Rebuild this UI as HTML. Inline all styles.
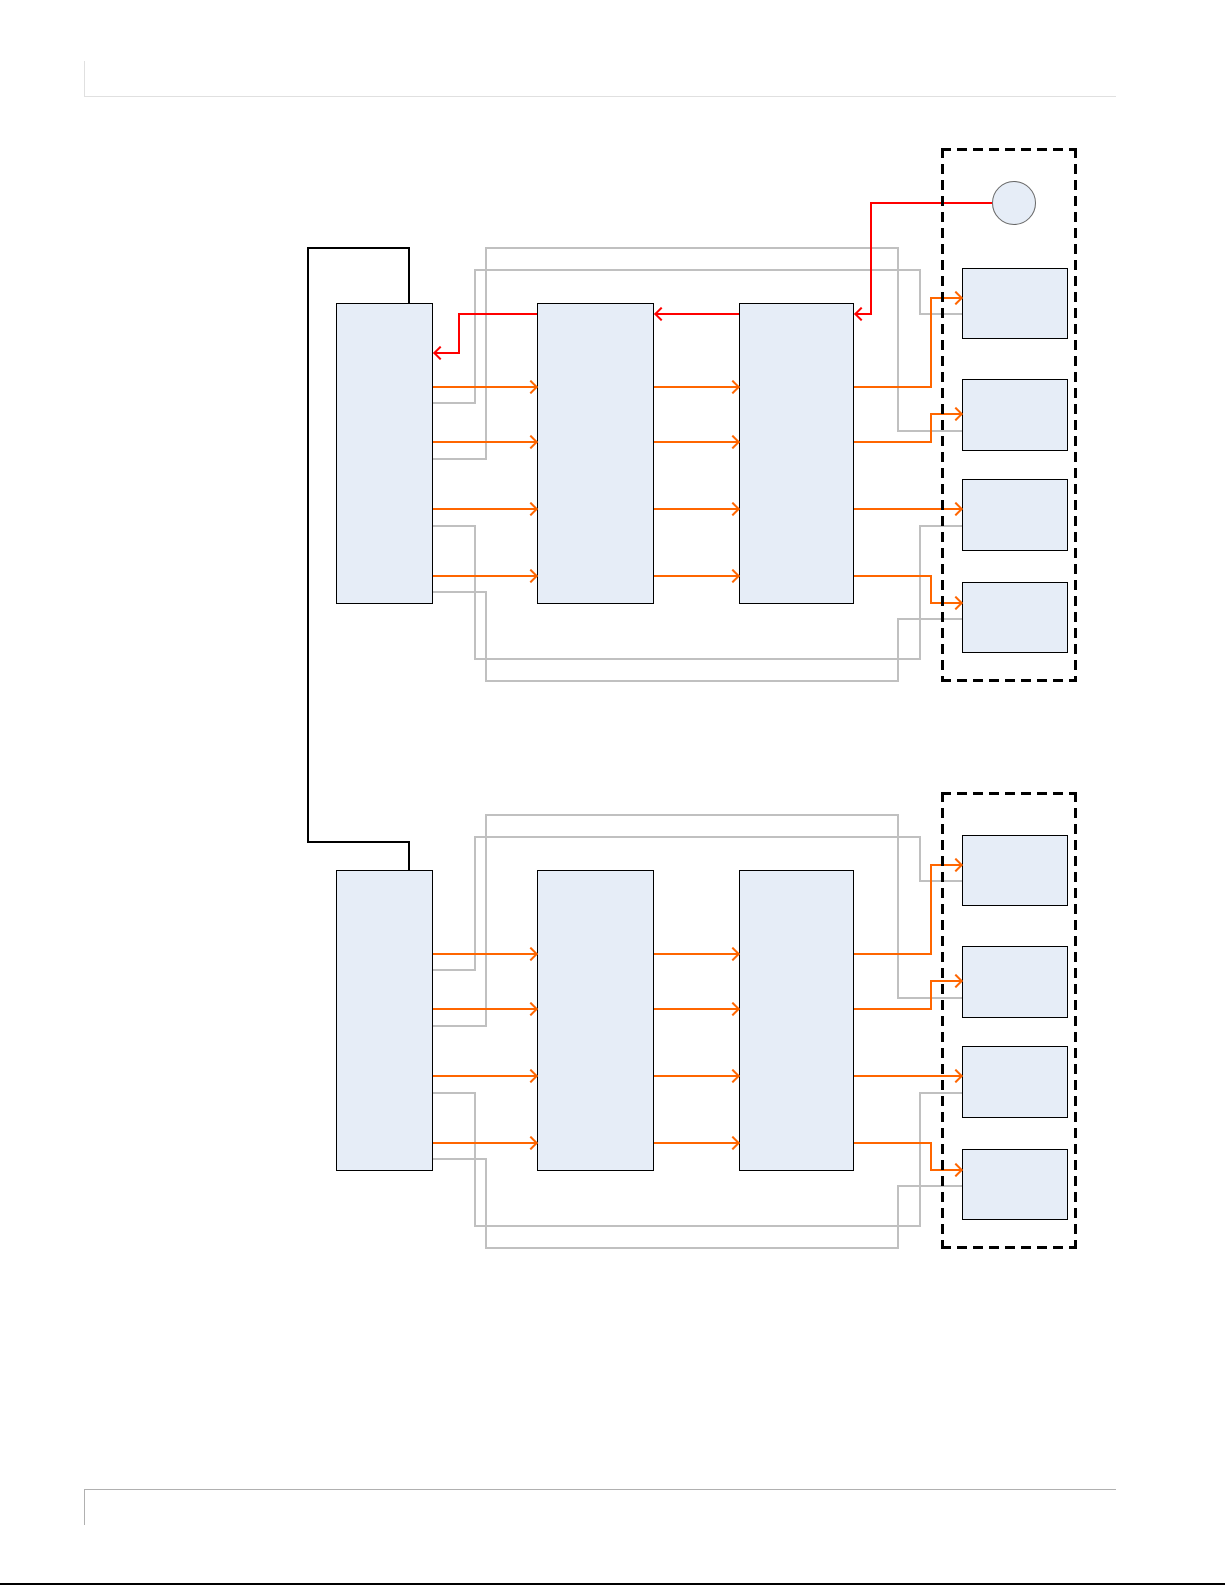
<!DOCTYPE html>
<html><head><meta charset="utf-8"><style>
html,body{margin:0;padding:0;background:#fff}
#pg{position:relative;width:1225px;height:1585px;overflow:hidden;background:#fff}
.s{position:absolute;left:0;width:1225px;height:700px}
.g,.o,.r,.k{position:absolute}
.g{background:#c0c0c0}.o{background:#ff6600}.r{background:#ff0000}.k{background:#000}
.b{position:absolute;background:#e6edf7;border:1.5px solid #000;box-sizing:border-box}
.ar{position:absolute;width:8px;height:8px;border-top:2px solid #ff6600;border-right:2px solid #ff6600;transform:rotate(45deg)}
.al{position:absolute;width:8px;height:8px;border-bottom:2px solid #ff0000;border-left:2px solid #ff0000;transform:rotate(45deg)}
.dh{position:absolute;height:3px;background:repeating-linear-gradient(90deg,#000 0 10px,transparent 10px 16px)}
.dv{position:absolute;width:3px;background:repeating-linear-gradient(180deg,#000 0 10px,transparent 10px 16px)}
</style></head><body><div id="pg">

<div style="position:absolute;left:84px;top:61px;width:1px;height:36px;background:#e0e0e0"></div>
<div style="position:absolute;left:84px;top:96px;width:1032px;height:1px;background:#e0e0e0"></div>
<div style="position:absolute;left:84px;top:1489px;width:1032px;height:1px;background:#b0b0b0"></div>
<div style="position:absolute;left:84px;top:1489px;width:1px;height:36px;background:#b0b0b0"></div>
<div style="position:absolute;left:0;top:1583px;width:1225px;height:2px;background:#000"></div>

<div class="k" style="left:408px;top:247px;width:2px;height:56px"></div>
<div class="k" style="left:307px;top:247px;width:103px;height:2px"></div>
<div class="k" style="left:307px;top:247px;width:2px;height:596px"></div>
<div class="k" style="left:307px;top:841px;width:103px;height:2px"></div>
<div class="k" style="left:408px;top:841px;width:2px;height:29px"></div>

<div class="s" style="top:0">
<div class="g" style="left:432px;top:402px;width:44px;height:2px"></div>
<div class="g" style="left:474px;top:269px;width:2px;height:135px"></div>
<div class="g" style="left:474px;top:269px;width:447px;height:2px"></div>
<div class="g" style="left:919px;top:269px;width:2px;height:46px"></div>
<div class="g" style="left:919px;top:313px;width:43px;height:2px"></div>
<div class="g" style="left:432px;top:458px;width:55px;height:2px"></div>
<div class="g" style="left:485px;top:247px;width:2px;height:213px"></div>
<div class="g" style="left:485px;top:247px;width:414px;height:2px"></div>
<div class="g" style="left:897px;top:247px;width:2px;height:185px"></div>
<div class="g" style="left:897px;top:430px;width:65px;height:2px"></div>
<div class="g" style="left:432px;top:525px;width:44px;height:2px"></div>
<div class="g" style="left:474px;top:525px;width:2px;height:135px"></div>
<div class="g" style="left:474px;top:658px;width:447px;height:2px"></div>
<div class="g" style="left:919px;top:525px;width:2px;height:135px"></div>
<div class="g" style="left:919px;top:525px;width:43px;height:2px"></div>
<div class="g" style="left:432px;top:591px;width:55px;height:2px"></div>
<div class="g" style="left:485px;top:591px;width:2px;height:91px"></div>
<div class="g" style="left:485px;top:680px;width:414px;height:2px"></div>
<div class="g" style="left:897px;top:618px;width:2px;height:64px"></div>
<div class="g" style="left:897px;top:618px;width:65px;height:2px"></div>
<div class="b" style="left:336px;top:303px;width:97px;height:301px"></div>
<div class="b" style="left:537px;top:303px;width:117px;height:301px"></div>
<div class="b" style="left:739px;top:303px;width:115px;height:301px"></div>
<div class="b" style="left:962px;top:268px;width:106px;height:71px"></div>
<div class="b" style="left:962px;top:379px;width:106px;height:72px"></div>
<div class="b" style="left:962px;top:479px;width:106px;height:72px"></div>
<div class="b" style="left:962px;top:582px;width:106px;height:71px"></div>
<div class="o" style="left:433px;top:386px;width:104px;height:2px"></div>
<div class="o" style="left:433px;top:441px;width:104px;height:2px"></div>
<div class="o" style="left:433px;top:508px;width:104px;height:2px"></div>
<div class="o" style="left:433px;top:575px;width:104px;height:2px"></div>
<div class="o" style="left:654px;top:386px;width:85px;height:2px"></div>
<div class="o" style="left:654px;top:441px;width:85px;height:2px"></div>
<div class="o" style="left:654px;top:508px;width:85px;height:2px"></div>
<div class="o" style="left:654px;top:575px;width:85px;height:2px"></div>
<div class="ar" style="left:526px;top:382px"></div>
<div class="ar" style="left:526px;top:437px"></div>
<div class="ar" style="left:526px;top:504px"></div>
<div class="ar" style="left:526px;top:571px"></div>
<div class="ar" style="left:728px;top:382px"></div>
<div class="ar" style="left:728px;top:437px"></div>
<div class="ar" style="left:728px;top:504px"></div>
<div class="ar" style="left:728px;top:571px"></div>
<div class="o" style="left:854px;top:386px;width:78px;height:2px"></div>
<div class="o" style="left:930px;top:297px;width:2px;height:91px"></div>
<div class="o" style="left:930px;top:297px;width:32px;height:2px"></div>
<div class="ar" style="left:951px;top:293px"></div>
<div class="o" style="left:854px;top:441px;width:78px;height:2px"></div>
<div class="o" style="left:930px;top:413px;width:2px;height:30px"></div>
<div class="o" style="left:930px;top:413px;width:32px;height:2px"></div>
<div class="ar" style="left:951px;top:409px"></div>
<div class="o" style="left:854px;top:508px;width:108px;height:2px"></div>
<div class="ar" style="left:951px;top:504px"></div>
<div class="o" style="left:854px;top:575px;width:78px;height:2px"></div>
<div class="o" style="left:930px;top:575px;width:2px;height:29px"></div>
<div class="o" style="left:930px;top:602px;width:32px;height:2px"></div>
<div class="ar" style="left:951px;top:598px"></div>
</div>

<div class="s" style="top:567px">
<div class="g" style="left:432px;top:402px;width:44px;height:2px"></div>
<div class="g" style="left:474px;top:269px;width:2px;height:135px"></div>
<div class="g" style="left:474px;top:269px;width:447px;height:2px"></div>
<div class="g" style="left:919px;top:269px;width:2px;height:46px"></div>
<div class="g" style="left:919px;top:313px;width:43px;height:2px"></div>
<div class="g" style="left:432px;top:458px;width:55px;height:2px"></div>
<div class="g" style="left:485px;top:247px;width:2px;height:213px"></div>
<div class="g" style="left:485px;top:247px;width:414px;height:2px"></div>
<div class="g" style="left:897px;top:247px;width:2px;height:185px"></div>
<div class="g" style="left:897px;top:430px;width:65px;height:2px"></div>
<div class="g" style="left:432px;top:525px;width:44px;height:2px"></div>
<div class="g" style="left:474px;top:525px;width:2px;height:135px"></div>
<div class="g" style="left:474px;top:658px;width:447px;height:2px"></div>
<div class="g" style="left:919px;top:525px;width:2px;height:135px"></div>
<div class="g" style="left:919px;top:525px;width:43px;height:2px"></div>
<div class="g" style="left:432px;top:591px;width:55px;height:2px"></div>
<div class="g" style="left:485px;top:591px;width:2px;height:91px"></div>
<div class="g" style="left:485px;top:680px;width:414px;height:2px"></div>
<div class="g" style="left:897px;top:618px;width:2px;height:64px"></div>
<div class="g" style="left:897px;top:618px;width:65px;height:2px"></div>
<div class="b" style="left:336px;top:303px;width:97px;height:301px"></div>
<div class="b" style="left:537px;top:303px;width:117px;height:301px"></div>
<div class="b" style="left:739px;top:303px;width:115px;height:301px"></div>
<div class="b" style="left:962px;top:268px;width:106px;height:71px"></div>
<div class="b" style="left:962px;top:379px;width:106px;height:72px"></div>
<div class="b" style="left:962px;top:479px;width:106px;height:72px"></div>
<div class="b" style="left:962px;top:582px;width:106px;height:71px"></div>
<div class="o" style="left:433px;top:386px;width:104px;height:2px"></div>
<div class="o" style="left:433px;top:441px;width:104px;height:2px"></div>
<div class="o" style="left:433px;top:508px;width:104px;height:2px"></div>
<div class="o" style="left:433px;top:575px;width:104px;height:2px"></div>
<div class="o" style="left:654px;top:386px;width:85px;height:2px"></div>
<div class="o" style="left:654px;top:441px;width:85px;height:2px"></div>
<div class="o" style="left:654px;top:508px;width:85px;height:2px"></div>
<div class="o" style="left:654px;top:575px;width:85px;height:2px"></div>
<div class="ar" style="left:526px;top:382px"></div>
<div class="ar" style="left:526px;top:437px"></div>
<div class="ar" style="left:526px;top:504px"></div>
<div class="ar" style="left:526px;top:571px"></div>
<div class="ar" style="left:728px;top:382px"></div>
<div class="ar" style="left:728px;top:437px"></div>
<div class="ar" style="left:728px;top:504px"></div>
<div class="ar" style="left:728px;top:571px"></div>
<div class="o" style="left:854px;top:386px;width:78px;height:2px"></div>
<div class="o" style="left:930px;top:297px;width:2px;height:91px"></div>
<div class="o" style="left:930px;top:297px;width:32px;height:2px"></div>
<div class="ar" style="left:951px;top:293px"></div>
<div class="o" style="left:854px;top:441px;width:78px;height:2px"></div>
<div class="o" style="left:930px;top:413px;width:2px;height:30px"></div>
<div class="o" style="left:930px;top:413px;width:32px;height:2px"></div>
<div class="ar" style="left:951px;top:409px"></div>
<div class="o" style="left:854px;top:508px;width:108px;height:2px"></div>
<div class="ar" style="left:951px;top:504px"></div>
<div class="o" style="left:854px;top:575px;width:78px;height:2px"></div>
<div class="o" style="left:930px;top:575px;width:2px;height:29px"></div>
<div class="o" style="left:930px;top:602px;width:32px;height:2px"></div>
<div class="ar" style="left:951px;top:598px"></div>
</div>

<div class="r" style="left:458px;top:313px;width:79px;height:2px"></div>
<div class="r" style="left:458px;top:313px;width:2px;height:41px"></div>
<div class="r" style="left:434px;top:352px;width:26px;height:2px"></div>
<div class="al" style="left:435px;top:348px"></div>
<div class="r" style="left:655px;top:313px;width:84px;height:2px"></div>
<div class="al" style="left:656px;top:309px"></div>
<div class="r" style="left:870px;top:202px;width:122px;height:2px"></div>
<div class="r" style="left:870px;top:202px;width:2px;height:113px"></div>
<div class="r" style="left:855px;top:313px;width:17px;height:2px"></div>
<div class="al" style="left:856px;top:309px"></div>
<div style="position:absolute;left:992px;top:181px;width:44px;height:44px;border-radius:50%;background:#e6edf7;border:1px solid #666;box-sizing:border-box"></div>

<!-- dashed groups -->
<div class="dh" style="left:941px;top:148px;width:136px"></div>
<div class="dh" style="left:941px;top:679px;width:136px"></div>
<div class="dv" style="left:941px;top:148px;height:534px"></div>
<div class="dv" style="left:1074px;top:148px;height:534px"></div>
<div class="dh" style="left:941px;top:792px;width:136px"></div>
<div class="dh" style="left:941px;top:1246px;width:136px"></div>
<div class="dv" style="left:941px;top:792px;height:457px"></div>
<div class="dv" style="left:1074px;top:792px;height:457px"></div>

</div></body></html>
